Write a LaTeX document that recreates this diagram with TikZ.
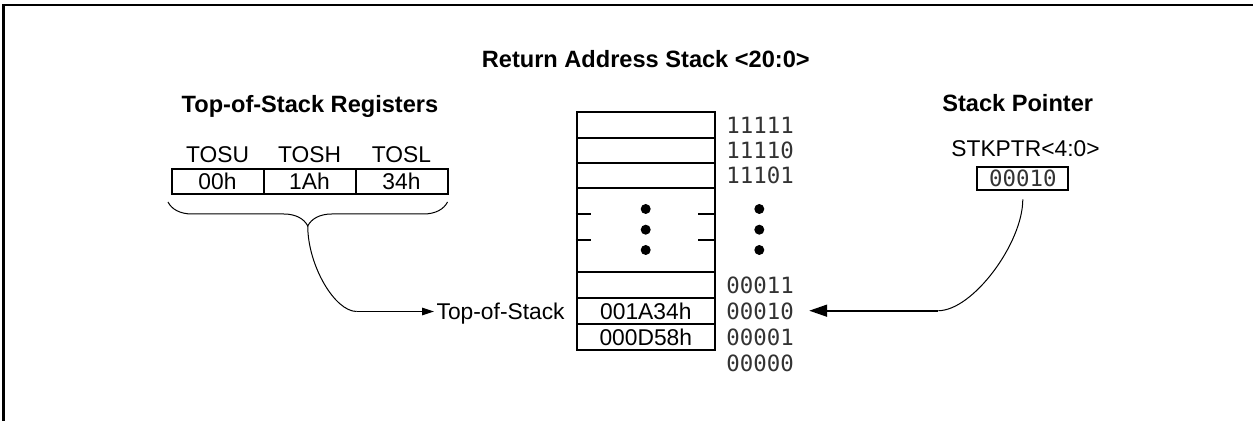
\documentclass[tikz,border=0pt]{standalone}
\usepackage{fontspec}
\setmainfont{Liberation Sans}
\newfontfamily\addrfont{DejaVu Sans Mono}
\usepackage{tikz}
\usetikzlibrary{arrows.meta,positioning,calc,decorations.pathreplacing}
\tikzstyle{heading} = [font=\bfseries\fontsize{11.8}{14}\selectfont, inner sep=0pt]
\tikzstyle{lbl} = [font=\fontsize{11.4}{13}\selectfont, inner sep=0pt]
\tikzstyle{addr} = [font=\addrfont\fontsize{11.2}{13}\selectfont, text=black!80, inner sep=0pt]
\tikzstyle{cellbox} = [rectangle, draw, line width=1pt, minimum width=69.2pt, inner sep=0pt, font=\fontsize{11.4}{13}\selectfont]
\tikzstyle{regbox} = [rectangle, draw, line width=1pt, minimum width=46pt, minimum height=12.4pt, inner sep=0pt, font=\fontsize{11.4}{13}\selectfont]
\tikzstyle{thinline} = [line width=0.5pt]
\tikzstyle{tosarrow} = [line width=0.85pt, -{Triangle[length=6pt,width=3.6pt]}, shorten >=1pt]
\tikzstyle{ptrarrow} = [line width=0.85pt, -{Triangle[length=9pt,width=6pt]}]

\begin{document}
\begin{tikzpicture}[x=0.5pt, y=-0.5pt]
\useasboundingbox (0,0) rectangle (1253,421);
% frame
\draw[line width=1.1pt] (3.5,421) -- (3.5,5) -- (1253,5);

% Headings
\node[heading, anchor=base] (rettitle) at (645.8,68) {Return Address Stack <20:0>};
\node[heading, anchor=base] (tostitle) at (310,113) {Top-of-Stack Registers};
\node[heading, anchor=base] (sptitle) at (1017.7,111.7) {Stack Pointer};

% Return address stack
\node[cellbox, minimum height=12.75pt] (c1) at (645.8,125.25) {};
\node[cellbox, minimum height=12.75pt] (c2) at (645.8,150.75) {};
\node[cellbox, minimum height=12.25pt] (c3) at (645.8,175.75) {};
\node[cellbox, minimum height=42pt] (gap) at (645.8,230) {};
\node[cellbox, minimum height=13pt] (c4) at (645.8,285) {};
\node[cellbox, minimum height=13pt] (c5) at (645.8,311) {001A34h};
\node[cellbox, minimum height=13pt] (c6) at (645.8,337) {000D58h};
\draw[line width=1pt] (gap.west |- 0,214.5) -- ++(15,0);
\draw[line width=1pt] (gap.west |- 0,240) -- ++(15,0);
\draw[line width=1pt] (gap.east |- 0,214.5) -- ++(-18,0);
\draw[line width=1pt] (gap.east |- 0,240) -- ++(-18,0);
\foreach \y in {209,229.7,250} {
  \fill (645.7,\y) circle[radius=2.5pt];
  \fill (759.3,\y) circle[radius=2.5pt];
}

% Stack addresses
\node[addr, right=5pt of c1] (a11111) {11111};
\node[addr, right=5pt of c2] (a11110) {11110};
\node[addr, right=5pt of c3] (a11101) {11101};
\node[addr, right=5pt of c4] (a00011) {00011};
\node[addr, right=5pt of c5] (a00010) {00010};
\node[addr, right=5pt of c6] (a00001) {00001};
\node[addr, below=4.5pt of a00001] (a00000) {00000};

% Top-of-stack registers
\node[regbox] (tosu) at (217.5,181.7) {00h};
\node[regbox] (tosh) at (309.5,181.7) {1Ah};
\node[regbox] (tosl) at (401.5,181.7) {34h};
\node[lbl, above=2.6pt of tosu] (tosulbl) {TOSU};
\node[lbl, above=2.6pt of tosh] (toshlbl) {TOSH};
\node[lbl, above=2.6pt of tosl] (tosllbl) {TOSL};
\draw[thinline, decorate, decoration={brace, mirror, amplitude=12pt}] (168,202) -- (447.5,202);
\coordinate (bracetip) at (307.75,226);
\coordinate (tosbend) at (356.7,311.5);
\node[lbl, anchor=base east] (toslbl) at (565,319.3) {Top-of-Stack};
\draw[thinline] (bracetip) .. controls (307.75,265) and (334.6,311.5) .. (tosbend);
\draw[tosarrow] (tosbend) -- (tosbend -| toslbl.west);

% Stack pointer
\node[lbl, anchor=base] (stkptr) at (1025.5,156.7) {STKPTR<4:0>};
\node[addr, rectangle, draw=black, line width=1pt, minimum width=45.5pt, minimum height=11.8pt] (spbox) at (1022.8,178.5) {00010};
\coordinate (spbend) at (938.3,310.7);
\draw[thinline] ([yshift=-4pt]spbox.south) .. controls (1022.8,243.3) and (972.6,310.7) .. (spbend);
\draw[ptrarrow, shorten >=7.5pt] (spbend) -- (spbend -| a00010.east);
\end{tikzpicture}
\end{document}
